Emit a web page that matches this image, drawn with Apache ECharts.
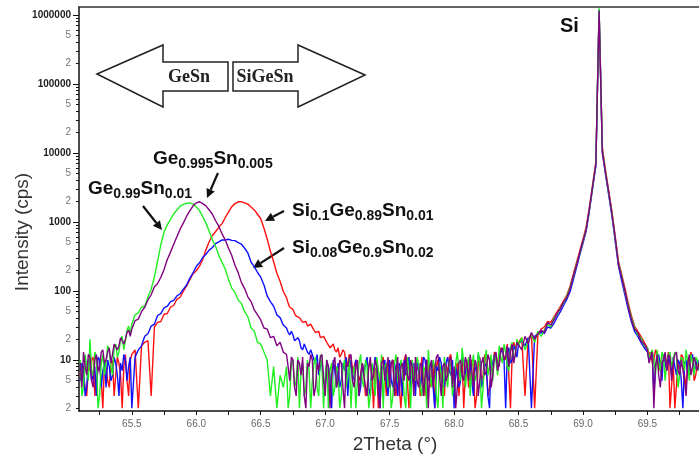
<!DOCTYPE html>
<html><head><meta charset="utf-8">
<script src="https://cdn.jsdelivr.net/npm/echarts@6/dist/echarts.min.js"></script>
<style>html,body{margin:0;padding:0;background:#fff}#c{width:699px;height:458px}</style>
</head><body><div id="c"></div>
<script>
// scan angles (2Theta, degrees), main grid
const twoTheta = [
65.1,65.125,65.15,65.175,65.2,65.225,65.25,65.275,
65.3,65.325,65.35,65.375,65.4,65.425,65.45,65.475,
65.5,65.525,65.55,65.575,65.6,65.625,65.65,65.675,
65.7,65.725,65.75,65.775,65.8,65.825,65.85,65.875,
65.9,65.925,65.95,65.975,66.0,66.025,66.05,66.075,
66.1,66.125,66.15,66.175,66.2,66.225,66.25,66.275,
66.3,66.325,66.35,66.375,66.4,66.425,66.45,66.475,
66.5,66.525,66.55,66.575,66.6,66.625,66.65,66.675,
66.7,66.725,66.75,66.775,66.8,66.825,66.85,66.875,
66.9,66.925,66.95,66.975,67.0,67.025,67.05,67.075,
67.1,67.125,67.15,67.175,67.2,67.225,67.25,67.275,
67.3,67.325,67.35,67.375,67.4,67.425,67.45,67.475,
67.5,67.525,67.55,67.575,67.6,67.625,67.65,67.675,
67.7,67.725,67.75,67.775,67.8,67.825,67.85,67.875,
67.9,67.925,67.95,67.975,68.0,68.025,68.05,68.075,
68.1,68.125,68.15,68.175,68.2,68.225,68.25,68.275,
68.3,68.325,68.35,68.375,68.4,68.425,68.45,68.475,
68.5,68.525,68.55,68.575,68.6,68.625,68.65,68.675,
68.7,68.725,68.75,68.775,68.8,68.825,68.85,68.875,
68.9,68.925,68.95,68.975,69.0,69.025,69.05,69.075,
69.1,69.125,69.15,69.175,69.2,69.225,69.25,69.275,
69.3,69.325,69.35,69.375,69.4,69.425,69.45,69.475,
69.5,69.525,69.55,69.575,69.6,69.625,69.65,69.675,
69.7,69.725,69.75,69.775,69.8,69.825,69.85,69.875,
69.9];

// extra scan angles read in the low-count (background) stretches
const twoThetaMid = [
65.1125,65.1375,65.1625,65.1875,65.2125,65.2375,65.2625,65.2875,
65.3125,65.3375,65.3625,65.3875,65.4125,65.4375,65.4625,65.4875,
66.7125,66.7375,66.7625,66.7875,66.8125,66.8375,66.8625,66.8875,
66.9125,66.9375,66.9625,66.9875,67.0125,67.0375,67.0625,67.0875,
67.1125,67.1375,67.1625,67.1875,67.2125,67.2375,67.2625,67.2875,
67.3125,67.3375,67.3625,67.3875,67.4125,67.4375,67.4625,67.4875,
67.5125,67.5375,67.5625,67.5875,67.6125,67.6375,67.6625,67.6875,
67.7125,67.7375,67.7625,67.7875,67.8125,67.8375,67.8625,67.8875,
67.9125,67.9375,67.9625,67.9875,68.0125,68.0375,68.0625,68.0875,
68.1125,68.1375,68.1625,68.1875,68.2125,68.2375,68.2625,68.2875,
68.3125,68.3375,68.3625,68.3875,68.4125,68.4375,68.4625,68.4875,
69.5125,69.5375,69.5625,69.5875,69.6125,69.6375,69.6625,69.6875,
69.7125,69.7375,69.7625,69.7875,69.8125,69.8375,69.8625,69.8875];

// Ge0.99Sn0.01 (green)
const ge099sn001 = [
10,4,8,20,6,11,3,12,
9,14,6,17,13,22,19,31,
33,45,48,58,60,82,106,160,
270,470,715,905,1090,1310,1490,1690,
1790,1860,1890,1810,1640,1460,1190,960,
735,550,440,325,260,205,148,110,
95,74,66,50,42,29,26,18,
17,13,10,3,8,2,6,4,
8,3,10,5,2,9,4,7,
5,11,3,8,6,2,9,4,
7,3,10,6,2,8,5,12,
4,8,3,6,11,5,2,9,
6,3,12,4,8,2,7,10,
5,9,3,7,14,4,8,2,
6,11,4,8,3,13,5,9,
7,3,12,6,9,4,14,8,
5,10,16,9,13,7,18,12,
16,21,14,19,23,18,26,22,
27,33,30,41,46,57,67,85,
112,160,245,350,520,800,1520,3250,
7100,1250000,11000,5300,2550,1320,570,255,
165,98,64,41,30,23,21,16,
15,12,10,14,7,11,9,13,
8,12,6,10,14,5,9,11,
7];
const ge099sn001Mid = [
3,12,5,7,13,2,9,6,
16,8,15,11,20,14,27,24,
2,9,4,11,7,3,10,2,
9,4,12,2,10,7,3,8,
2,8,4,11,6,2,9,5,
10,2,9,3,7,12,8,4,
2,9,5,10,3,11,2,6,
11,4,8,2,6,10,3,9,
2,6,10,3,9,7,15,4,
11,8,5,13,2,10,6,12,
12,6,11,17,8,15,10,20,
11,14,6,9,13,5,12,8,
13,4,11,7,9,12,6,10];

// Ge0.995Sn0.005 (purple)
const ge0995sn0005 = [
9,13,6,11,4,12,8,14,
10,15,12,18,16,22,20,27,
28,37,39,50,58,74,88,115,
128,158,205,285,365,475,615,790,
970,1210,1440,1710,1890,1960,1840,1710,
1490,1290,1040,860,670,545,415,325,
235,184,132,108,82,70,53,45,
38,29,28,21,22,16,18,13,
12,5,10,3,9,11,2,8,
10,4,7,12,3,8,6,11,
5,9,2,8,12,4,10,6,
9,3,11,6,8,2,10,7,
4,10,7,3,9,12,5,8,
11,4,8,6,2,10,7,12,
3,9,6,11,8,4,10,5,
9,12,4,8,3,11,7,10,
6,13,9,15,11,8,17,12,
19,14,22,17,25,20,24,27,
25,35,32,38,48,55,70,80,
108,165,235,360,530,780,1560,3300,
6900,1150000,10500,5100,2650,1280,590,245,
158,102,60,39,28,25,19,17,
14,11,2,12,4,10,7,11,
9,13,6,10,3,12,8,11,
9];
const ge0995sn0005Mid = [
4,8,12,5,10,7,13,9,
13,9,17,14,21,17,25,22,
8,11,4,10,6,3,9,12,
3,9,11,5,10,2,9,4,
10,4,9,11,5,8,3,9,
4,8,5,10,3,9,5,11,
9,3,11,8,5,6,10,3,
5,9,3,10,8,4,11,6,
8,5,10,4,2,9,6,11,
5,7,10,3,9,6,12,4,
11,7,14,10,16,13,9,18,
9,13,8,6,9,13,12,5,
12,7,10,5,9,6,11,7];

// Si0.1Ge0.89Sn0.01 (red)
const si01ge089sn001 = [
6,9,3,7,11,5,8,2,
8,4,10,6,9,2,12,3,
12,14,2,16,18,19,3,30,
35,36,46,47,58,62,76,81,
99,118,146,178,196,228,285,395,
515,635,725,835,945,1160,1390,1660,
1840,1955,1970,1890,1810,1640,1490,1290,
1110,810,565,375,265,180,138,98,
80,58,54,43,41,35,36,30,
31,25,26,20,21,17,16,14,
15,12,13,9,11,8,10,6,
7,4,9,2,8,5,11,3,
6,10,3,8,5,12,2,9,
4,7,11,3,9,6,2,10,
8,3,6,12,4,9,7,2,
10,5,8,3,11,6,9,4,
7,12,8,14,10,16,11,15,
18,21,3,20,24,2,23,28,
30,36,35,42,50,60,72,88,
118,175,260,380,560,850,1650,3500,
7500,1100000,12000,5600,2800,1400,620,270,
175,110,68,44,31,26,22,18,
15,13,10,12,8,11,9,2,
9,2,7,11,4,8,10,6,
8];
const si01ge089sn001Mid = [
9,4,8,10,3,7,5,9,
5,9,3,11,6,8,5,10,
66,57,47,44,38,37,31,33,
27,24,21,22,18,15,17,13,
11,14,8,12,7,10,5,9,
3,8,6,7,2,10,6,8,
9,4,8,2,10,5,7,4,
8,3,6,10,4,9,8,5,
4,9,11,5,8,3,10,7,
4,10,2,9,5,12,3,8,
13,9,15,11,17,2,18,16,
12,9,14,7,12,10,13,2,
2,9,12,6,10,13,5,9];

// Si0.08Ge0.9Sn0.02 (blue)
const si008ge09sn002 = [
5,8,4,9,6,3,10,7,
4,8,6,9,3,7,10,8,
2,11,14,16,22,24,31,33,
44,47,57,60,70,73,85,91,
106,122,153,182,228,256,305,340,
390,425,485,515,550,548,560,540,
535,500,475,415,355,260,225,185,
158,122,85,70,60,45,41,32,
29,23,23,18,19,14,16,12,
12,9,6,10,4,8,2,7,
9,5,7,3,10,6,8,4,
6,11,3,7,9,2,8,5,
10,4,7,9,3,6,11,5,
3,8,6,10,5,9,2,7,
9,4,11,6,2,8,5,10,
6,9,3,7,10,5,8,2,
8,11,9,13,2,15,10,14,
17,19,16,21,2,22,24,25,
24,30,29,34,42,50,62,76,
98,145,220,330,490,740,1450,3100,
6500,1200000,10000,4900,2400,1200,520,230,
140,88,55,36,26,22,18,15,
13,11,3,10,8,12,7,9,
11,6,9,2,10,7,12,8,
9];
const si008ge09sn002Mid = [
9,3,10,5,8,11,4,9,
10,5,11,6,9,12,5,11,
25,26,19,21,15,17,13,14,
10,12,8,5,9,6,10,4,
4,9,11,7,5,10,3,9,
9,4,8,11,5,7,10,3,
5,9,3,6,10,8,4,9,
9,4,11,6,8,4,8,11,
5,9,7,10,8,4,11,6,
10,5,8,12,4,9,3,11,
12,7,14,10,12,9,16,11,
10,13,8,12,5,9,11,6,
8,10,5,9,6,11,7,10];

// axis ticks / labels
const xLabelValues = [65.5,66.0,66.5,67.0,67.5,68.0,68.5,69.0,69.5];
const xTickValues = [65.25,65.5,65.75,66.0,66.25,66.5,66.75,67.0,67.25,67.5,67.75,68.0,68.25,68.5,68.75,69.0,69.25,69.5,69.75];
const yLabelValues = [2,5,10,20,50,100,200,500,1000,2000,5000,10000,20000,50000,100000,200000,500000,1000000];
const yMajorTicks = [10,100,1000,10000,100000,1000000];
const yMinorTicks = [2,3,4,5,6,7,8,9,20,30,40,50,60,70,80,90,200,300,400,500,600,700,800,900,
  2000,3000,4000,5000,6000,7000,8000,9000,20000,30000,40000,50000,60000,70000,80000,90000,
  200000,300000,400000,500000,600000,700000,800000,900000];

const X_MIN = 65.09, X_MAX = 69.9, Y_MIN = 1.82, Y_MAX = 1.3e6;

function pairs(main, mid){
  const pts = twoTheta.map((t, i) => [t, main[i]]).concat(twoThetaMid.map((t, i) => [t, mid[i]]));
  pts.sort((a, b) => a[0] - b[0]);
  return pts;
}
const FONT = 'Liberation Sans, Arial, sans-serif';

function isDecade(v){ const l = Math.log10(v); return Math.abs(l - Math.round(l)) < 1e-6; }

function arrow(x1, y1, x2, y2){
  const ang = Math.atan2(y2 - y1, x2 - x1), L = 9, W = 4.5;
  const bx = x2 - L * Math.cos(ang), by = y2 - L * Math.sin(ang);
  const px = -Math.sin(ang) * W, py = Math.cos(ang) * W;
  return [
    {type:'line', shape:{x1:x1, y1:y1, x2:bx, y2:by}, style:{stroke:'#111', lineWidth:2.2}},
    {type:'polygon', shape:{points:[[x2,y2],[bx+px,by+py],[bx-px,by-py]]}, style:{fill:'#111'}}
  ];
}

const formulaRich = {
  b:{fontSize:19, fontWeight:'bold', fontFamily:FONT, fill:'#111', lineHeight:22, verticalAlign:'top'},
  s:{fontSize:14, fontWeight:'bold', fontFamily:FONT, fill:'#111', lineHeight:16, padding:[8,0,0,0], verticalAlign:'top'}
};
function formula(parts, x, y){
  const text = parts.map(p => '{b|' + p[0] + '}{s|' + p[1] + '}').join('');
  return {type:'text', x:x, y:y, style:{text:text, rich:formulaRich, align:'left', verticalAlign:'top'}};
}

const lineSeries = (name, main, mid, color) => ({
  name:name, type:'line', data:pairs(main, mid), symbol:'none', showSymbol:false, clip:true, silent:true,
  lineStyle:{color:color, width:1.4}, itemStyle:{color:color}, animation:false
});

const chart = echarts.init(document.getElementById('c'), null, {renderer:'canvas'});
chart.setOption({
  animation:false,
  backgroundColor:'#fff',
  grid:{left:79, right:0, top:7, bottom:47, containLabel:false, outerBoundsMode:'none'},
  xAxis:[{
    type:'value', min:X_MIN, max:X_MAX,
    axisLine:{show:true, onZero:false, lineStyle:{color:'#111', width:1.5}},
    axisTick:{show:true, customValues:xTickValues, length:4, lineStyle:{color:'#111', width:1}},
    axisLabel:{show:true, customValues:xLabelValues, formatter:v => Number(v).toFixed(1), color:'#666', fontSize:10, fontFamily:FONT, margin:8},
    splitLine:{show:false}, minorTick:{show:false}
  },{
    type:'value', position:'top', min:X_MIN, max:X_MAX,
    axisLine:{show:true, onZero:false, lineStyle:{color:'#333', width:1.5}},
    axisTick:{show:false}, axisLabel:{show:false}, splitLine:{show:false}
  }],
  yAxis:[{
    type:'log', logBase:10, min:Y_MIN, max:Y_MAX,
    axisLine:{show:true, onZero:false, lineStyle:{color:'#111', width:1.5}},
    axisTick:{show:true, customValues:yMajorTicks, length:6, lineStyle:{color:'#111', width:1}},
    axisLabel:{show:true, customValues:yLabelValues, margin:8,
      formatter:v => isDecade(v) ? '{b|' + Math.round(v) + '}' : '{s|' + String(Math.round(v)).charAt(0) + '}',
      rich:{
        b:{fontSize:10, fontWeight:'bold', color:'#222', fontFamily:FONT},
        s:{fontSize:10, color:'#777', fontFamily:FONT}
      }},
    splitLine:{show:false}
  },{
    type:'log', logBase:10, min:Y_MIN, max:Y_MAX, position:'left', offset:0,
    axisLine:{show:false},
    axisTick:{show:true, customValues:yMinorTicks, length:3, lineStyle:{color:'#111', width:1}},
    axisLabel:{show:false}, splitLine:{show:false}
  }],
  series:[
    lineSeries('Si0.1Ge0.89Sn0.01', si01ge089sn001, si01ge089sn001Mid, '#ff1010'),
    lineSeries('Si0.08Ge0.9Sn0.02', si008ge09sn002, si008ge09sn002Mid, '#1010ff'),
    lineSeries('Ge0.99Sn0.01', ge099sn001, ge099sn001Mid, '#22ee22'),
    lineSeries('Ge0.995Sn0.005', ge0995sn0005, ge0995sn0005Mid, '#800080')
  ],
  graphic:[
    {type:'polygon', shape:{points:[[97,74],[163,45],[163,62],[228,62],[228,91],[163,91],[163,107]]},
      style:{fill:'#fff', stroke:'#222', lineWidth:1.5}},
    {type:'polygon', shape:{points:[[365,75],[298,45],[298,62],[233,62],[233,91],[298,91],[298,107]]},
      style:{fill:'#fff', stroke:'#222', lineWidth:1.5}},
    {type:'text', x:189, y:77, style:{text:'GeSn', fontFamily:'Liberation Serif, Times New Roman, serif', fontWeight:'bold', fontSize:18, fill:'#222', align:'center', verticalAlign:'middle'}},
    {type:'text', x:265, y:77, style:{text:'SiGeSn', fontFamily:'Liberation Serif, Times New Roman, serif', fontWeight:'bold', fontSize:18, fill:'#222', align:'center', verticalAlign:'middle'}},
    {type:'text', x:560, y:26, style:{text:'Si', fontFamily:FONT, fontWeight:'bold', fontSize:20, fill:'#111', align:'left', verticalAlign:'middle'}},
    formula([['Ge','0.995'],['Sn','0.005']], 153, 149),
    formula([['Ge','0.99'],['Sn','0.01']], 88, 179),
    formula([['Si','0.1'],['Ge','0.89'],['Sn','0.01']], 292, 201),
    formula([['Si','0.08'],['Ge','0.9'],['Sn','0.02']], 292, 238),
    ...arrow(218, 173, 207, 198),
    ...arrow(143, 206, 162, 230),
    ...arrow(284, 211, 265, 221),
    ...arrow(284, 248, 253, 268),
    {type:'text', x:23, y:232, rotation:Math.PI/2, style:{text:'Intensity (cps)', fontFamily:FONT, fontSize:19, fill:'#333', align:'center', verticalAlign:'middle'}},
    {type:'text', x:395, y:445, style:{text:'2Theta (°)', fontFamily:FONT, fontSize:19, fill:'#333', align:'center', verticalAlign:'middle'}}
  ]
});
</script>
</body></html>
